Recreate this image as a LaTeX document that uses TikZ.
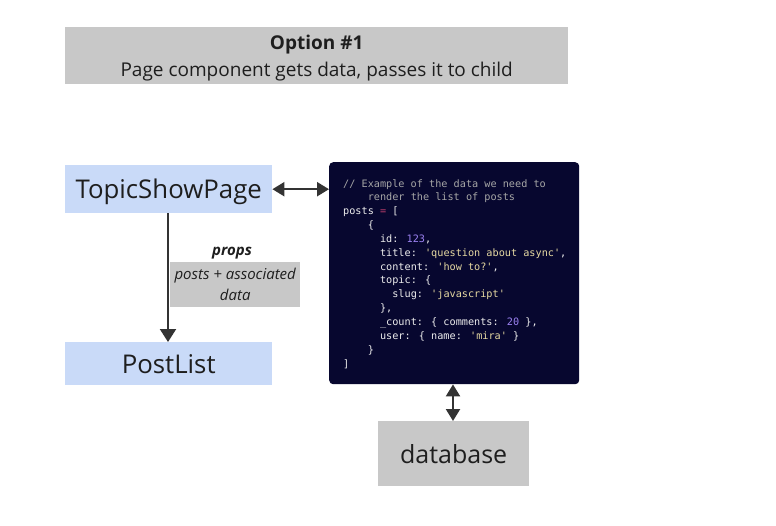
\documentclass[tikz,border=0pt]{standalone}
\usepackage{fontspec}
\setmainfont{Open Sans}
\newfontfamily\codefont{DejaVu Sans Mono}
\usetikzlibrary{arrows.meta}
\definecolor{boxgray}{HTML}{C8C8C8}
\definecolor{boxblue}{HTML}{C9DAF8}
\definecolor{codebg}{HTML}{07072F}
\definecolor{arrowc}{HTML}{333333}
\definecolor{txt}{HTML}{1E1E1E}
\definecolor{cmt}{HTML}{A6A6A6}
\definecolor{ckey}{HTML}{EDEDED}
\definecolor{cstr}{HTML}{E6D9A2}
\definecolor{cnum}{HTML}{9C82F2}
\definecolor{cop}{HTML}{C2406E}
\newcommand{\ind}[1]{\hphantom{#1}}
\begin{document}
\begin{tikzpicture}[x=1pt,y=-1pt,
  graybox/.style={fill=boxgray, inner sep=0pt, anchor=north west, text=txt},
  bluebox/.style={fill=boxblue, inner sep=0pt, anchor=north west, text=txt, font=\fontsize{25.8}{30}\selectfont},
  arr/.style={draw=arrowc, line width=2pt, -{Triangle[length=13pt,width=16pt]}},
  darr/.style={draw=arrowc, line width=2.2pt, {Triangle[length=12pt,width=14pt]}-{Triangle[length=12pt,width=14pt]}}
]
\fill[white] (0,0) rectangle (776,525);
\useasboundingbox (0,0) rectangle (776,525);

\node[graybox, minimum width=503pt, minimum height=57pt, align=center,
  font=\fontsize{19}{26}\selectfont] (title) at (65,27)
  {\rule{0pt}{19pt}\textbf{Option \#1}\\[1pt]Page component gets data, passes it to child};

\node[bluebox, minimum width=207pt, minimum height=48pt] (topic) at (65,165) {\rule{0pt}{25pt}TopicShowPage};
\node[bluebox, minimum width=207pt, minimum height=43pt] (postlist) at (65,342) {PostList};

\node[graybox, minimum width=130pt, minimum height=45pt, align=center,
  font=\fontsize{15}{21}\selectfont\itshape] (propsbox) at (170,262)
  {posts + associated\\data};
\node[inner sep=0pt, text=txt, font=\fontsize{15}{18}\selectfont\bfseries\itshape] (propslbl) at (232,253) {props};

\draw[arr] (topic.south -| 168,0) -- (postlist.north -| 168,0);

\node[fill=codebg, rounded corners=4pt, minimum width=250pt, minimum height=222pt,
  anchor=north west, inner sep=0pt] (code) at (329,162) {};
\node[anchor=north west, inner sep=0pt, align=left, text=ckey,
  font=\codefont\fontsize{10.2}{13.85}\selectfont] (codetext) at (343,179) {%
\textcolor{cmt}{// Example of the data we need to}\\
\textcolor{cmt}{\ind{0000}render the list of posts}\\
posts \textcolor{cop}{=} [\\
\ind{0000}\{\\
\ind{000000}id: \textcolor{cnum}{123},\\
\ind{000000}title: \textcolor{cstr}{'question about async'},\\
\ind{000000}content: \textcolor{cstr}{'how to?'},\\
\ind{000000}topic: \{\\
\ind{00000000}slug: \textcolor{cstr}{'javascript'}\\
\ind{000000}\},\\
\ind{000000}\_count: \{ comments: \textcolor{cnum}{20} \},\\
\ind{000000}user: \{ name: \textcolor{cstr}{'mira'} \}\\
\ind{0000}\}\\
]};

\node[graybox, minimum width=151pt, minimum height=65pt, font=\fontsize{25}{30}\selectfont] (db) at (378,421) {database};

\draw[darr] (topic.east) -- (code.west |- topic.east);
\draw[darr] (code.south -| 453,0) -- (db.north -| 453,0);
\end{tikzpicture}
\end{document}
